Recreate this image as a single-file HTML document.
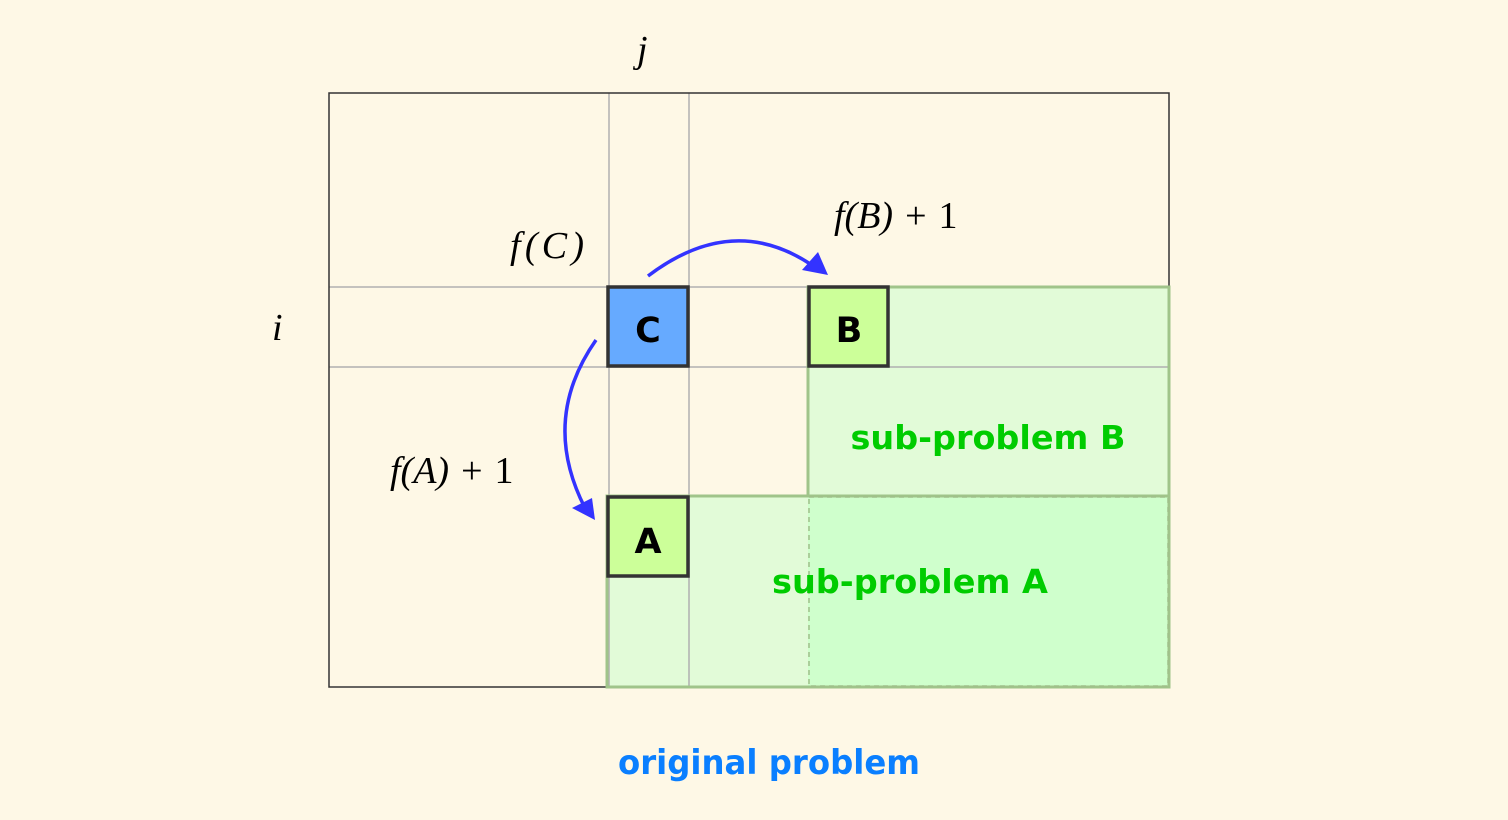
<!DOCTYPE html>
<html><head><style>body{margin:0;background:#fef8e6}svg{display:block}</style></head><body>
<svg width="1508" height="820" xmlns="http://www.w3.org/2000/svg">
<rect width="1508" height="820" fill="#fef8e6"/>
<rect x="808" y="287" width="361" height="209" fill="#e2fbd8"/>
<rect x="607" y="496" width="201" height="191" fill="#e2fbd8"/>
<rect x="808" y="496" width="361" height="191" fill="#cfffcc"/>
<g stroke="#b0b0b0" stroke-width="1.5">
<line x1="609" y1="93" x2="609" y2="687"/>
<line x1="689" y1="93" x2="689" y2="687"/>
<line x1="329" y1="287" x2="1169" y2="287"/>
<line x1="329" y1="367" x2="1169" y2="367"/>
</g>
<rect x="329" y="93" width="840" height="594" fill="none" stroke="#333" stroke-width="1.5"/>
<g fill="none" stroke="#a0c48a" stroke-width="3">
<rect x="808" y="287" width="361" height="209"/>
<rect x="607" y="496" width="562" height="191"/>
</g>
<rect x="809" y="497" width="359" height="189" fill="none" stroke="#9fbf8a" stroke-width="1.5" stroke-dasharray="5,4"/>
<g stroke="#333" stroke-width="3.5">
<rect x="608" y="287" width="80" height="79" fill="#66aaff"/>
<rect x="809" y="287" width="79" height="79" fill="#ccff99"/>
<rect x="608" y="497" width="80" height="79" fill="#ccff99"/>
</g>
<g font-family="'DejaVu Sans','Liberation Sans',sans-serif" font-size="35" font-weight="bold" text-anchor="middle" fill="#000">
<text x="648" y="342">C</text>
<text x="849" y="342">B</text>
<text x="648" y="553">A</text>
</g>
<g fill="none" stroke="#3333ff" stroke-width="3.5">
<path d="M648 276 Q735 210 816 268"/>
<path d="M596 340 Q540 420 585 508"/>
</g>
<polygon points="828,275 802,270 818,252" fill="#3333ff"/>
<polygon points="595,520 572,508 592,498" fill="#3333ff"/>
<g font-family="'Liberation Serif',serif" font-style="italic" font-size="38" fill="#000">
<text x="637" y="62">j</text>
<text x="272" y="340">i</text>
<text x="510" y="258" textLength="74">f(C)</text>
<text x="834" y="228">f(B)<tspan font-style="normal" dx="12">+</tspan><tspan font-style="normal" dx="12">1</tspan></text>
<text x="390" y="483">f(A)<tspan font-style="normal" dx="12">+</tspan><tspan font-style="normal" dx="12">1</tspan></text>
</g>
<g font-family="'DejaVu Sans','Liberation Sans',sans-serif" font-size="33" font-weight="bold" fill="#00cc00" text-anchor="middle">
<text x="988" y="449" textLength="275" lengthAdjust="spacingAndGlyphs">sub-problem B</text>
<text x="910" y="593" textLength="276" lengthAdjust="spacingAndGlyphs">sub-problem A</text>
</g>
<text x="769" y="774" font-family="'DejaVu Sans','Liberation Sans',sans-serif" font-size="34" font-weight="bold" fill="#0a7fff" text-anchor="middle" textLength="302" lengthAdjust="spacingAndGlyphs">original problem</text>
</svg>
</body></html>
